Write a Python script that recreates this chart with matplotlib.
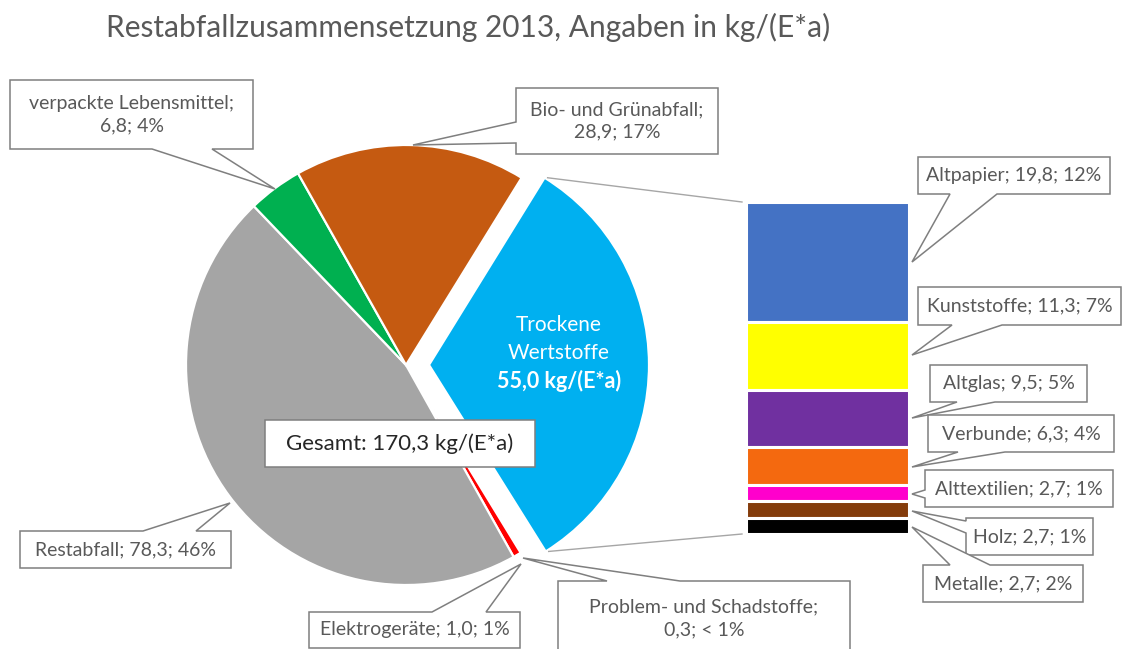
import numpy as np
import matplotlib
matplotlib.use('Agg')
import matplotlib.pyplot as plt
from matplotlib.patches import Polygon, Rectangle

W, H = 1124, 649

# pie data (clockwise, starting at the exploded slice)
pie_labels = ['Trockene Wertstoffe', 'Problem- und Schadstoffe', 'Elektrogeräte',
              'Restabfall', 'verpackte Lebensmittel', 'Bio- und Grünabfall']
pie_values = [55.0, 0.3, 1.0, 78.3, 6.8, 28.9]
pie_colors = ['#00B0F0', '#F2F2F2', '#FF0000', '#A5A5A5', '#00B050', '#C55A11']

# bar data (top to bottom)
bar_labels = ['Altpapier', 'Kunststoffe', 'Altglas', 'Verbunde', 'Alttextilien', 'Holz', 'Metalle']
bar_values = [19.8, 11.3, 9.5, 6.3, 2.7, 2.7, 2.7]
bar_colors = ['#4472C4', '#FFFF00', '#7030A0', '#F4690F', '#FF00CC', '#843C0C', '#000000']

label_texts = {
    'verpackte Lebensmittel': 'verpackte Lebensmittel;\n6,8; 4%',
    'Bio- und Grünabfall': 'Bio- und Grünabfall;\n28,9; 17%',
    'Restabfall': 'Restabfall; 78,3; 46%',
    'Elektrogeräte': 'Elektrogeräte; 1,0; 1%',
    'Problem- und Schadstoffe': 'Problem- und Schadstoffe;\n0,3; < 1%',
    'Altpapier': 'Altpapier; 19,8; 12%',
    'Kunststoffe': 'Kunststoffe; 11,3; 7%',
    'Altglas': 'Altglas; 9,5; 5%',
    'Verbunde': 'Verbunde; 6,3; 4%',
    'Alttextilien': 'Alttextilien; 2,7; 1%',
    'Holz': 'Holz; 2,7; 1%',
    'Metalle': 'Metalle; 2,7; 2%',
}

plt.rcParams['font.family'] = ['Lato', 'DejaVu Sans']
TXT = '#595959'
EDGE = '#7F7F7F'

fig = plt.figure(figsize=(W / 100, H / 100), dpi=100)
ax = fig.add_axes([0, 0, 1, 1])

cx, cy, r = 406, H - 365, 220
wedges, _ = ax.pie(pie_values, colors=pie_colors, startangle=58.3, counterclock=False,
                   radius=r, center=(cx, cy), explode=[23, 0, 0, 0, 0, 0],
                   wedgeprops=dict(edgecolor='white', linewidth=1.6), frame=True)
ax.set_xlim(0, W)
ax.set_ylim(0, H)
ax.set_aspect('auto')
ax.axis('off')

# bar of the pie
ax2 = fig.add_axes([746 / W, (H - 534) / H, 163 / W, 332 / H])
bottom = 0
for v, c in zip(bar_values, bar_colors):
    ax2.bar(0, v, bottom=bottom, width=1, color=c, edgecolor='white', linewidth=2.2, clip_on=False)
    bottom += v
ax2.set_xlim(-0.5, 0.5)
ax2.set_ylim(sum(bar_values), 0)
ax2.axis('off')

# connector lines between exploded slice and bar
w0 = wedges[0]
inv = ax.transData.inverted()
for ang, by in [(w0.theta2, 0), (w0.theta1, sum(bar_values))]:
    px = w0.center[0] + w0.r * np.cos(np.radians(ang))
    py = w0.center[1] + w0.r * np.sin(np.radians(ang))
    bx, byy = inv.transform(ax2.transData.transform((-0.5, by)))
    ax.plot([px + 3, bx - 4], [py, byy], color='#A6A6A6', lw=1.0)

lx = w0.center[0] + 130
ax.text(lx, H - 325, 'Trockene', color='white', fontsize=15, ha='center', va='center')
ax.text(lx, H - 353, 'Wertstoffe', color='white', fontsize=15, ha='center', va='center')
ax.text(lx, H - 381, '55,0 kg/(E*a)', color='white', fontsize=15.5, fontweight='bold',
        ha='center', va='center')


def callout(box, side, b0, b1, tip, text, fs=14):
    x0, y0, x1, y1 = box
    pts = [(x0, y0)]
    if side == 'top':
        pts += [(b0, y0), tip, (b1, y0)]
    pts += [(x1, y0), (x1, y1)]
    if side == 'bottom':
        pts += [(b1, y1), tip, (b0, y1)]
    pts += [(x0, y1)]
    if side == 'left':
        pts += [(x0, b1), tip, (x0, b0)]
    pts = [(x, H - y) for x, y in pts]
    ax.add_patch(Polygon(pts, closed=True, facecolor='white', edgecolor=EDGE, lw=1.1, zorder=5))
    ax.text((x0 + x1) / 2, H - (y0 + y1) / 2, text, ha='center', va='center',
            color=TXT, fontsize=fs, zorder=6, linespacing=1.4)


callout((10, 80, 253, 149), 'bottom', 152, 212, (275, 189), label_texts['verpackte Lebensmittel'])
callout((516, 88, 718, 154), 'left', 122, 143, (413, 145), label_texts['Bio- und Grünabfall'])
callout((20, 531, 231, 568), 'top', 143, 196, (230, 503), label_texts['Restabfall'])
callout((309, 612, 520, 648), 'top', 432, 486, (521, 564), label_texts['Elektrogeräte'])
callout((558, 581, 850, 656), 'top', 607, 680, (523, 558), label_texts['Problem- und Schadstoffe'])
callout((918, 157, 1110, 194), 'bottom', 950, 997, (912, 262), label_texts['Altpapier'])
callout((918, 287, 1121, 325), 'bottom', 952, 1002, (912, 355), label_texts['Kunststoffe'])
callout((930, 365, 1087, 402), 'bottom', 957, 995, (912, 418), label_texts['Altglas'])
callout((928, 415, 1114, 452), 'bottom', 958, 1005, (912, 467), label_texts['Verbunde'])
callout((925, 470, 1113, 507), 'left', 490, 498, (912, 494), label_texts['Alttextilien'])
callout((966, 518, 1093, 555), 'left', 521, 533, (912, 511), label_texts['Holz'])
callout((923, 565, 1083, 602), 'top', 950, 990, (912, 527), label_texts['Metalle'])

# total box
ax.add_patch(Rectangle((265, H - 467), 270, 47, facecolor='white', edgecolor=EDGE, lw=1.1, zorder=5))
ax.text(400, H - 443.5, 'Gesamt: 170,3 kg/(E*a)', ha='center', va='center', color='#262626',
        fontsize=16, zorder=6)

fig.text(468 / W, 1 - 27 / H, 'Restabfallzusammensetzung 2013, Angaben in kg/(E*a)',
         ha='center', va='center', color=TXT, fontsize=21.5)

fig.savefig('out.png', dpi=100)
